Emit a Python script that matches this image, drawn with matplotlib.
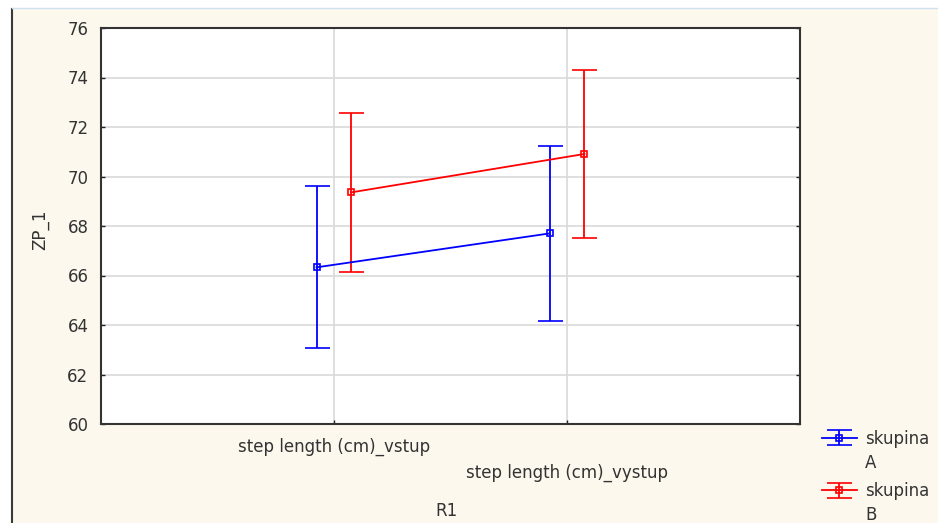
import matplotlib

matplotlib.use("Agg")
import matplotlib.pyplot as plt
from matplotlib.lines import Line2D
from matplotlib.legend_handler import HandlerErrorbar

# data
categories = ["step length (cm)_vstup", "step length (cm)_vystup"]
group_word = "skupina"
groups = ["A", "B"]
means_a = [66.33, 67.70]
err_a = [3.27, 3.55]
means_b = [69.36, 70.91]
err_b = [3.20, 3.41]
colors = ["#0000ff", "#ff0000"]
offsets = [-0.075, 0.075]
yticks = [60, 62, 64, 66, 68, 70, 72, 74, 76]

BG = "#fdf8ee"
FS = 12
TXT = "#333333"
W, H = 938, 523

fig = plt.figure(figsize=(W / 100, H / 100), dpi=100)
fig.patch.set_facecolor("white")
# cream panel with the dark left rule and pale top rule
fig.patches.append(plt.Rectangle((12 / W, 0), 1, 1 - 9 / H, transform=fig.transFigure,
                                 facecolor=BG, edgecolor="none", zorder=-2))
fig.add_artist(Line2D([11.5 / W, 11.5 / W], [0, 1 - 9 / H], transform=fig.transFigure,
                      color="#3a3a3a", lw=1.5))
fig.add_artist(Line2D([12 / W, 1], [1 - 8 / H, 1 - 8 / H], transform=fig.transFigure,
                      color="#cfe0f0", lw=1.0))

ax = fig.add_axes([101 / W, 1 - 424 / H, 699 / W, 396 / H])
ax.set_facecolor("white")

x = list(range(len(categories)))
for means, errs, col, off in zip([means_a, means_b], [err_a, err_b], colors, offsets):
    xs = [i + off for i in x]
    ax.errorbar(xs, means, yerr=errs, color=col, lw=1.3, elinewidth=1.3, capsize=9,
                capthick=1.3, marker="s", ms=5, mfc="none", mec=col, mew=1.2, label=group_word)

ax.set_xlim(-1, 2)
ax.set_ylim(60, 76)
ax.set_yticks(yticks)
ax.set_xticks(x)
ax.set_xticklabels(["", ""])
ax.grid(True, color="#d9d9d9", lw=1.2)
ax.set_axisbelow(True)
ax.tick_params(direction="in", length=3, width=1, color="#222222", labelsize=FS,
               labelcolor=TXT, right=True)
ax.tick_params(axis="y", pad=9)
for s in ax.spines.values():
    s.set_color(TXT)
    s.set_linewidth(1.5)

# staggered category labels
ax.text(0, -0.058, categories[0], transform=ax.get_xaxis_transform(), ha="center", va="center",
        fontsize=FS, color=TXT)
ax.text(1, -0.124, categories[1], transform=ax.get_xaxis_transform(), ha="center", va="center",
        fontsize=FS, color=TXT)
fig.text(446 / W, 1 - 511 / H, "R1", ha="center", va="center", fontsize=FS, color=TXT)
fig.text(40 / W, 1 - 230 / H, "ZP_1", ha="center", va="center", rotation=90, fontsize=FS,
         color=TXT)

leg = ax.legend(loc="upper left", bbox_to_anchor=(815 / W, 1 - 423 / H),
                bbox_transform=fig.transFigure, frameon=False, fontsize=FS,
                handlelength=2.1, handletextpad=0.5, labelspacing=2.05, borderaxespad=0,
                handler_map={matplotlib.container.ErrorbarContainer: HandlerErrorbar(yerr_size=0.45)})

# second line of each legend label (group letter) sits under "skupina"
fig.canvas.draw()
for t, g in zip(leg.get_texts(), groups):
    t.set_color(TXT)
    bb = t.get_window_extent()
    fig.text(bb.x0 / W, (bb.y0 + bb.y1) / 2 / H - 24 / H, g, ha="left", va="center",
             fontsize=FS, color=TXT)

fig.savefig("out.png", dpi=100, facecolor=fig.get_facecolor())
